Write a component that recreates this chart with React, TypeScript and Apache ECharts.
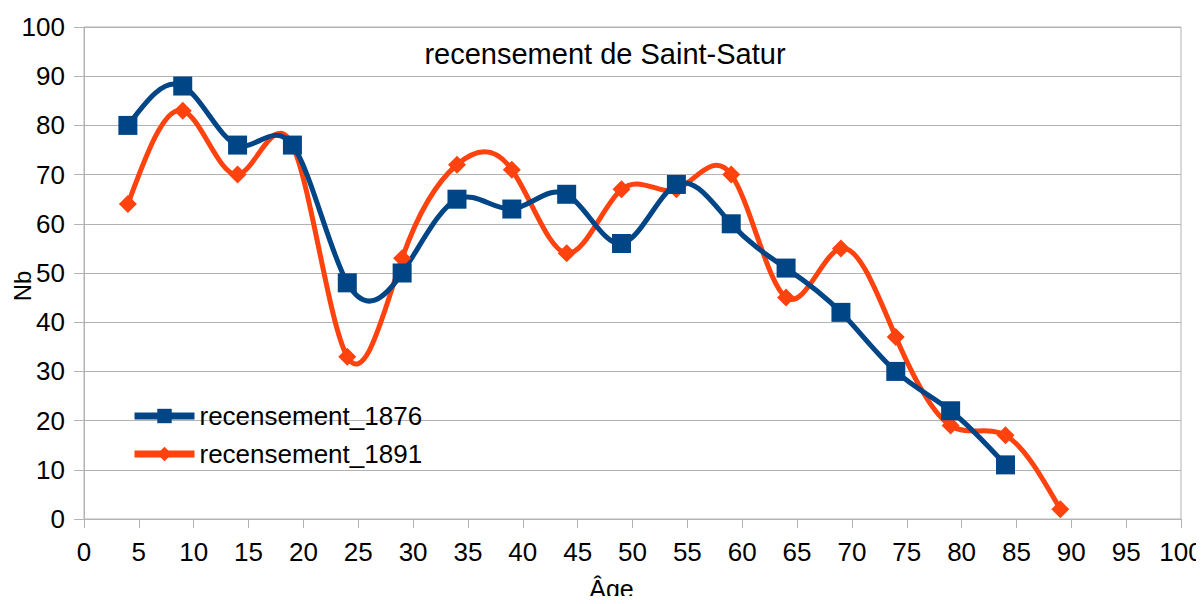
import React, { useEffect, useRef } from "react";
import * as echarts from "echarts";

const ages1876 = [4, 9, 14, 19, 24, 29, 34, 39, 44, 49, 54, 59, 64, 69, 74, 79, 84];
const values1876 = [80, 88, 76, 76, 48, 50, 65, 63, 66, 56, 68, 60, 51, 42, 30, 22, 11];
const ages1891 = [4, 9, 14, 19, 24, 29, 34, 39, 44, 49, 54, 59, 64, 69, 74, 79, 84, 89];
const values1891 = [64, 83, 70, 76, 33, 53, 72, 71, 54, 67, 67, 70, 45, 55, 37, 19, 17, 2];

const titleText = "recensement de Saint-Satur";
const seriesNames = ["recensement_1876", "recensement_1891"];
const colors = ["#004586", "#ff420e"];

const FONT = "'Liberation Sans', Arial, sans-serif";

// Natural cubic spline (as LibreOffice's "cubic spline" curve type), returned
// as cubic Bezier control points in data space.
function splineBeziers(xs: number[], ys: number[]) {
  const n = xs.length;
  const h: number[] = [];
  for (let i = 0; i < n - 1; i++) h.push(xs[i + 1] - xs[i]);
  const M = new Array(n).fill(0);
  if (n > 2) {
    const a: number[] = [], b: number[] = [], c: number[] = [], d: number[] = [];
    for (let i = 1; i < n - 1; i++) {
      a.push(h[i - 1]);
      b.push(2 * (h[i - 1] + h[i]));
      c.push(h[i]);
      d.push(6 * ((ys[i + 1] - ys[i]) / h[i] - (ys[i] - ys[i - 1]) / h[i - 1]));
    }
    const m = b.length;
    for (let i = 1; i < m; i++) {
      const w = a[i] / b[i - 1];
      b[i] -= w * c[i - 1];
      d[i] -= w * d[i - 1];
    }
    const sol = new Array(m).fill(0);
    sol[m - 1] = d[m - 1] / b[m - 1];
    for (let i = m - 2; i >= 0; i--) sol[i] = (d[i] - c[i] * sol[i + 1]) / b[i];
    for (let i = 0; i < m; i++) M[i + 1] = sol[i];
  }
  const slopes: number[] = [];
  for (let i = 0; i < n - 1; i++) {
    slopes.push((ys[i + 1] - ys[i]) / h[i] - (h[i] * (2 * M[i] + M[i + 1])) / 6);
  }
  const hl = h[n - 2];
  slopes.push((ys[n - 1] - ys[n - 2]) / hl + (hl * (M[n - 2] + 2 * M[n - 1])) / 6);
  const segs: number[][][] = [];
  for (let i = 0; i < n - 1; i++) {
    const t = h[i] / 3;
    segs.push([
      [xs[i] + t, ys[i] + slopes[i] * t],
      [xs[i + 1] - t, ys[i + 1] - slopes[i + 1] * t],
      [xs[i + 1], ys[i + 1]],
    ]);
  }
  return segs;
}

function curveSeries(xs: number[], ys: number[], color: string, z: number, name: string) {
  return {
    name,
    type: "custom",
    silent: true,
    z,
    data: [[xs[0], ys[0]]],
    encode: { x: 0, y: 1 },
    renderItem: (_params: any, api: any) => {
      const segs = splineBeziers(xs, ys);
      const p0 = api.coord([xs[0], ys[0]]);
      let d = `M${p0[0]},${p0[1]}`;
      for (const s of segs) {
        const c1 = api.coord(s[0]);
        const c2 = api.coord(s[1]);
        const e = api.coord(s[2]);
        d += ` C${c1[0]},${c1[1]} ${c2[0]},${c2[1]} ${e[0]},${e[1]}`;
      }
      return {
        type: "path",
        shape: { pathData: d },
        style: { stroke: color, lineWidth: 5, fill: "none", lineJoin: "round", lineCap: "round" },
      };
    },
  };
}

export default function App() {
  const ref = useRef<HTMLDivElement>(null);
  useEffect(() => {
    if (!ref.current) return;
    const chart = echarts.init(ref.current, null, { renderer: "svg" });
    chart.setOption({
      animation: false,
      backgroundColor: "#ffffff",
      title: {
        text: titleText,
        left: 600,
        textAlign: "center",
        top: 34,
        textStyle: { fontFamily: FONT, fontSize: 29, fontWeight: "normal", color: "#000" },
      },
      legend: {
        orient: "vertical",
        left: 126,
        top: 398,
        itemWidth: 60,
        itemHeight: 18,
        itemGap: 12,
        lineStyle: { width: 7, opacity: 1 },
        textStyle: { fontFamily: FONT, fontSize: 26, color: "#000" },
        data: seriesNames,
      },
      grid: {
        left: 84,
        right: 23,
        top: 27,
        bottom: 85,
        outerBoundsMode: "none",
        containLabel: false,
        show: true,
        borderColor: "#b3b3b3",
        borderWidth: 1,
      },
      xAxis: {
        type: "value",
        min: 0,
        max: 100,
        interval: 5,
        name: "Âge",
        nameLocation: "middle",
        nameGap: 57,
        nameMoveOverlap: false,
        nameTextStyle: { fontFamily: FONT, fontSize: 25, color: "#000", padding: [0, 42, 0, 0] },
        axisLine: { show: true, lineStyle: { color: "#b3b3b3", width: 1 } },
        axisTick: { show: true, length: 9, lineStyle: { color: "#b3b3b3" } },
        axisLabel: { fontFamily: FONT, fontSize: 26, color: "#000", margin: 20 },
        splitLine: { show: false },
      },
      yAxis: {
        type: "value",
        min: 0,
        max: 100,
        interval: 10,
        name: "Nb",
        nameLocation: "middle",
        nameGap: 50,
        nameRotate: 90,
        nameMoveOverlap: false,
        nameTextStyle: { fontFamily: FONT, fontSize: 24, color: "#000", padding: [0, 26, 0, 0] },
        axisLine: { show: true, lineStyle: { color: "#b3b3b3", width: 1 } },
        axisTick: { show: true, length: 10, lineStyle: { color: "#b3b3b3" } },
        axisLabel: { fontFamily: FONT, fontSize: 26, color: "#000", margin: 19 },
        splitLine: { show: true, lineStyle: { color: "#b3b3b3", width: 1 } },
      },
      series: [
        curveSeries(ages1891, values1891, colors[1], 2, "curve_1891"),
        curveSeries(ages1876, values1876, colors[0], 3, "curve_1876"),
        {
          name: seriesNames[0],
          type: "line",
          data: ages1876.map((a, i) => [a, values1876[i]]),
          symbol: "rect",
          symbolSize: 19,
          z: 5,
          itemStyle: { color: colors[0] },
          lineStyle: { color: colors[0], width: 0, opacity: 0 },
        },
        {
          name: seriesNames[1],
          type: "line",
          data: ages1891.map((a, i) => [a, values1891[i]]),
          symbol: "diamond",
          symbolSize: 18,
          z: 4,
          itemStyle: { color: colors[1] },
          lineStyle: { color: colors[1], width: 0, opacity: 0 },
        },
      ],
    });
    return () => chart.dispose();
  }, []);
  return <div ref={ref} style={{ width: 1204, height: 604, margin: -8 }} />;
}
